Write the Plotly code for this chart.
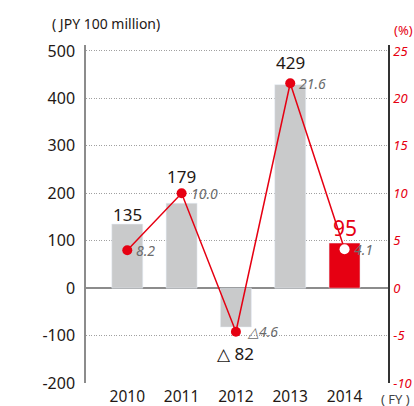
import plotly.graph_objects as go

years = ["2010", "2011", "2012", "2013", "2014"]
profit = [135, 179, -82, 429, 95]
profit_labels = ["135", "179", "△ 82", "429", "95"]
margin = [4.0, 10.0, -4.6, 21.6, 4.1]
margin_labels = ["8.2", "10.0", "△4.6", "21.6", "4.1"]
left_ticks = [-200, -100, 0, 100, 200, 300, 400, 500]
right_ticks = [-10, -5, 0, 5, 10, 15, 20, 25]

RED = "#e60012"
GREY_BAR = "#c9cacb"
DARK = "#231815"
FONT = "Noto Sans"

bar_colors = [GREY_BAR] * 4 + [RED]
marker_fill = [RED] * 4 + ["white"]

fig = go.Figure()
fig.add_trace(go.Bar(
    x=years, y=profit, marker_color=bar_colors, width=0.57,
    hoverinfo="skip", showlegend=False,
))
fig.add_trace(go.Scatter(
    x=years, y=margin, yaxis="y2", mode="lines+markers",
    line=dict(color=RED, width=1.5),
    marker=dict(size=10, color=marker_fill, line=dict(width=0)),
    hoverinfo="skip", showlegend=False,
))

# bar value labels (x given as category index)
bar_shift = [10, 27, -26, 22, 15]
for i, (v, t) in enumerate(zip(profit, profit_labels)):
    last = i == len(years) - 1
    fig.add_annotation(
        x=i, y=v, text=t, showarrow=False, yshift=bar_shift[i],
        font=dict(family=FONT, size=21 if last else 17, color=RED if last else DARK),
    )

# margin labels
for i, (m, t) in enumerate(zip(margin, margin_labels)):
    fig.add_annotation(
        x=i, y=m, yref="y2", text=f"<i>{t}</i>", showarrow=False,
        xanchor="left", xshift=7 if not t.startswith("△") else 9,
        font=dict(family=FONT, size=14, color="#6b6b6b"),
    )

fig.add_annotation(
    xref="paper", yref="paper", x=-0.119, y=1.065, xanchor="left", yanchor="middle",
    text="( JPY 100 million)", showarrow=False,
    font=dict(family=FONT, size=14, color=DARK),
)
fig.add_annotation(
    xref="paper", yref="paper", x=1.05, y=1.044, xanchor="center", yanchor="middle",
    text="(%)", showarrow=False,
    font=dict(family=FONT, size=13, color=RED),
)
fig.add_annotation(
    xref="paper", yref="paper", x=1.026, y=-0.047, xanchor="center", yanchor="middle",
    text="( FY )", showarrow=False,
    font=dict(family=FONT, size=13, color="#444"),
)

fig.update_layout(
    width=414, height=406,
    margin=dict(l=86, r=26, t=45, b=23, autoexpand=False),
    plot_bgcolor="white", paper_bgcolor="white",
    xaxis=dict(
        type="category", range=[-0.76, 4.8], showgrid=False, showline=False,
        ticks="", ticklabelstandoff=2,
        tickfont=dict(family=FONT, size=15.5, color=DARK),
    ),
    yaxis=dict(
        range=[-200, 512.6], tickvals=left_ticks,
        ticktext=[str(v) for v in left_ticks],
        showgrid=True, gridcolor="#a0a0a0", griddash="1px,1.5px", gridwidth=1,
        zeroline=True, zerolinecolor="#8c8c8c", zerolinewidth=1.5,
        showline=True, linecolor="#8c8c8c", linewidth=1.5,
        tickfont=dict(family=FONT, size=16, color=DARK), ticks="",
        ticklabelstandoff=6,
    ),
    yaxis2=dict(
        overlaying="y", side="right", range=[-10, 25.63],
        tickvals=right_ticks,
        ticktext=[f"<i>{v}</i>" for v in right_ticks],
        showgrid=False, zeroline=False,
        showline=True, linecolor="#333", linewidth=1.5,
        tickfont=dict(family=FONT, size=13, color=RED), ticks="",
        ticklabelstandoff=1,
    ),
)

fig.write_html(
    "out.html",
    config={"displayModeBar": False},
    post_script="document.body.style.margin='0px';",
)
